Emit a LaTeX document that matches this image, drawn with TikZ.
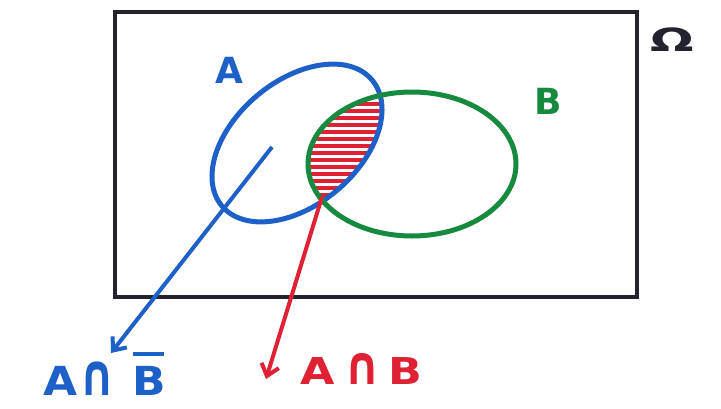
\documentclass[tikz,border=0pt]{standalone}
\usepackage{fontspec}
\setmainfont{DejaVu Sans}
\usetikzlibrary{shapes.geometric,arrows.meta}
\definecolor{penblue}{RGB}{28,96,200}
\definecolor{pengreen}{RGB}{22,138,62}
\definecolor{penred}{RGB}{222,34,52}
\definecolor{penblack}{RGB}{35,35,45}
\newcommand{\tallcap}{\scalebox{1}[1.45]{∩}}
\tikzset{
  setA/.style={draw=penblue, line width=5pt, ellipse, inner sep=0pt, minimum width=196pt, minimum height=124pt, rotate=40},
  setB/.style={draw=pengreen, line width=5pt, ellipse, inner sep=0pt, minimum width=208pt, minimum height=144pt},
  lbl/.style={font=\bfseries\fontsize{36}{38}\selectfont, inner sep=0pt},
  arr/.style={line width=4pt, -{Straight Barb[length=11pt,width=18pt,line width=4pt]}},
  hatch/.style={draw=penred, line width=3.6pt}
}
\begin{document}
\begin{tikzpicture}[x=1pt,y=-1pt]
\useasboundingbox (0,0) rectangle (721,408);
\fill[white] (0,0) rectangle (721,408);
% universe
\node[draw=penblack, line width=3.5pt, minimum width=522pt, minimum height=285pt, inner sep=0pt] (omega) at (376,154.5) {};
\node[inner sep=0pt, font=\bfseries\fontsize{32}{34}\selectfont, text=penblack] (omegalbl) at (672,40) {\scalebox{1.6}[1]{Ω}};
% hatching of intersection
\begin{scope}
  \clip[rotate around={40:(297,143)}] (297,143) ellipse (98 and 62);
  \clip (412,164) ellipse (104 and 72);
  \foreach \yy in {104,111,...,204} {
    \draw[hatch] (290,\yy) -- (400,\yy);
  }
\end{scope}
% sets
\node[setA] (A) at (297,143) {};
\node[setB] (B) at (412,164) {};
\node[lbl, text=penblue] (Alab) at (229,70) {A};
\node[lbl, text=pengreen] (Blab) at (548,101) {B};
% pointers
\coordinate (pA) at (272,147);
\coordinate (pAB) at (322,197);
\node[lbl, text=penblue, font=\bfseries\fontsize{40}{42}\selectfont, anchor=base west] (notB) at (43,395)
  {\scalebox{1.1}[1]{A\kern2pt\tallcap\kern16pt\makebox[0pt][l]{\raisebox{39pt}{\rule{28pt}{4pt}}}B}};
\node[lbl, text=penred, font=\bfseries\fontsize{37}{39}\selectfont, anchor=base west] (AB) at (300,384)
  {\scalebox{1.2}[1]{A\kern8pt\tallcap\kern7ptB}};
\coordinate (tipA) at (111,353);
\coordinate (tipAB) at (266,379);
\draw[arr, draw=penblue] (pA) -- (tipA);
\draw[arr, draw=penred] (pAB) -- (tipAB);
\end{tikzpicture}
\end{document}
